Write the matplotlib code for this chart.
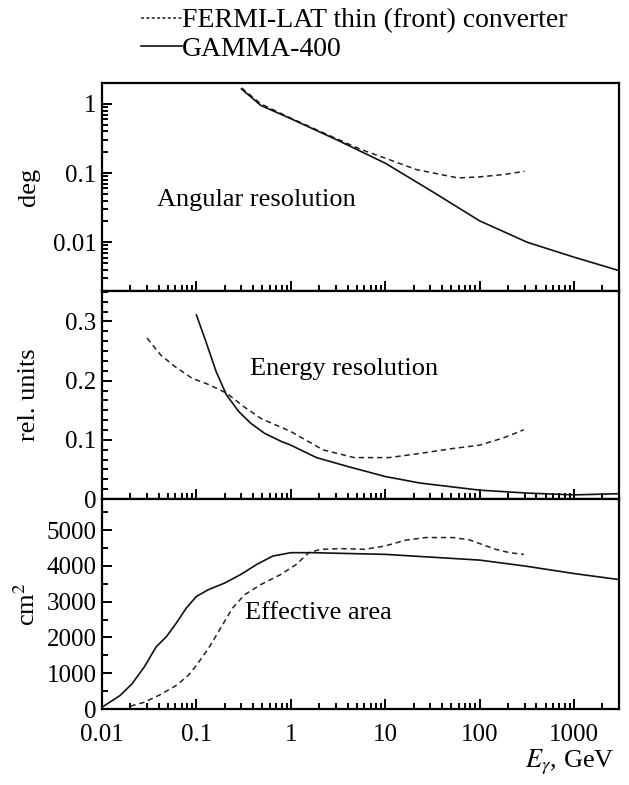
import numpy as np
import matplotlib
matplotlib.use("Agg")
import matplotlib.pyplot as plt
from matplotlib.ticker import LogLocator, MultipleLocator, NullFormatter, FixedLocator, FixedFormatter

plt.rcParams['font.family'] = ['Liberation Serif', 'DejaVu Serif']
plt.rcParams['mathtext.fontset'] = 'stix'

# Angular resolution, deg
ang_e_gamma = [0.3, 0.48, 1, 3.1, 10, 33, 100, 320, 1000, 3000]
ang_gamma = [1.64, 0.95, 0.61, 0.30, 0.139, 0.052, 0.0204, 0.010, 0.0061, 0.0039]
ang_e_fermi = [0.3, 0.48, 1, 3.1, 5.5, 10, 21.5, 59, 100, 177, 300]
ang_fermi = [1.70, 1.0, 0.62, 0.31, 0.22, 0.164, 0.112, 0.085, 0.088, 0.095, 0.106]

# Energy resolution, rel. units
en_e_gamma = [0.1, 0.126, 0.162, 0.208, 0.28, 0.376, 0.527, 0.8, 1, 1.87, 4.0, 10, 23.4, 100, 320, 1000, 3000]
en_gamma = [0.311, 0.266, 0.215, 0.176, 0.148, 0.128, 0.111, 0.097, 0.091, 0.070, 0.055, 0.038, 0.027, 0.015, 0.010, 0.007, 0.009]
en_e_fermi = [0.03, 0.042, 0.059, 0.09, 0.137, 0.208, 0.318, 0.484, 1, 2.2, 4.7, 11, 23.4, 50, 100, 177, 294]
en_fermi = [0.272, 0.243, 0.224, 0.204, 0.193, 0.179, 0.156, 0.136, 0.114, 0.083, 0.070, 0.070, 0.077, 0.085, 0.091, 0.103, 0.117]

# Effective area, cm^2
area_e_gamma = [0.01, 0.0155, 0.0208, 0.028, 0.0375, 0.048, 0.061, 0.078, 0.1, 0.134, 0.2, 0.294, 0.435,
                0.644, 1, 1.7, 10, 100, 308, 1000, 3000]
area_gamma = [50, 376, 705, 1175, 1739, 2020, 2397, 2820, 3148, 3336, 3524, 3759, 4041,
              4276, 4370, 4370, 4323, 4163, 3994, 3787, 3618]
area_e_fermi = [0.02, 0.028, 0.041, 0.061, 0.082, 0.1, 0.134, 0.18, 0.241, 0.324, 0.48, 0.78, 1.14,
                1.55, 2.08, 3.4, 6.1, 10, 16.3, 26.7, 52.8, 78, 105, 148, 208, 294]
area_fermi = [80, 188, 395, 658, 940, 1222, 1692, 2256, 2820, 3195, 3477, 3759, 4041,
              4370, 4464, 4483, 4464, 4558, 4718, 4793, 4793, 4727, 4605, 4464, 4370, 4323]

x_ticks = [0.01, 0.1, 1, 10, 100, 1000]
x_tick_labels = ['0.01', '0.1', '1', '10', '100', '1000']

FS = 18
TXT = 19
DASH = (0, (3.5, 2.5))

fig = plt.figure(figsize=(6.29, 7.85), dpi=100)
left, width = 0.1622, 0.822
ax1 = fig.add_axes([left, 0.6297, width, 0.2646])
ax2 = fig.add_axes([left, 0.3643, width, 0.2654])
ax3 = fig.add_axes([left, 0.0968, width, 0.2675])

for ax in (ax1, ax2, ax3):
    ax.set_xscale('log')
    ax.set_xlim(0.01, 3000)
    ax.xaxis.set_major_locator(FixedLocator(x_ticks))
    ax.xaxis.set_minor_locator(LogLocator(base=10, subs=np.arange(2, 10), numticks=20))
    ax.xaxis.set_minor_formatter(NullFormatter())
    ax.tick_params(which='both', direction='in', top=False, right=False, width=1.4, labelsize=FS)
    ax.tick_params(which='major', length=7)
    ax.tick_params(which='minor', length=4)
    ax.tick_params(axis='y', pad=4)
    for s in ax.spines.values():
        s.set_linewidth(1.6)

ax1.plot(ang_e_fermi, ang_fermi, color='#222222', lw=1.1, linestyle=DASH)
ax1.plot(ang_e_gamma, ang_gamma, color='#111111', lw=1.2)
ax1.set_yscale('log')
ax1.set_ylim(0.002, 2)
ax1.yaxis.set_major_locator(FixedLocator([0.01, 0.1, 1]))
ax1.yaxis.set_major_formatter(FixedFormatter(['0.01', '0.1', '1']))
ax1.yaxis.set_minor_locator(LogLocator(base=10, subs=np.arange(2, 10), numticks=20))
ax1.yaxis.set_minor_formatter(NullFormatter())
ax1.set_xticklabels([])
ax1.set_ylabel('deg', fontsize=TXT)
ax1.text(0.038, 0.041, 'Angular resolution', fontsize=TXT, va='center')

ax2.plot(en_e_fermi, en_fermi, color='#222222', lw=1.1, linestyle=DASH)
ax2.plot(en_e_gamma, en_gamma, color='#111111', lw=1.2)
ax2.set_ylim(0, 0.352)
ax2.yaxis.set_major_locator(FixedLocator([0, 0.1, 0.2, 0.3]))
ax2.yaxis.set_major_formatter(FixedFormatter(['0', '0.1', '0.2', '0.3']))
ax2.yaxis.set_minor_locator(MultipleLocator(0.1 / 6))
ax2.set_xticklabels([])
ax2.set_ylabel('rel. units', fontsize=TXT)
ax2.text(0.37, 0.219, 'Energy resolution', fontsize=TXT, va='center')

ax3.plot(area_e_fermi, area_fermi, color='#222222', lw=1.1, linestyle=DASH)
ax3.plot(area_e_gamma, area_gamma, color='#111111', lw=1.2)
ax3.set_ylim(0, 5870)
ax3.yaxis.set_major_locator(MultipleLocator(1000))
ax3.yaxis.set_minor_locator(MultipleLocator(500))
ax3.xaxis.set_major_formatter(FixedFormatter(x_tick_labels))
ax3.tick_params(axis='x', which='major', pad=11)
ax3.set_ylabel('cm$^2$', fontsize=TXT)
ax3.text(0.33, 2690, 'Effective area', fontsize=TXT, va='center')
ax3.text(0.992, -0.185, r'$E_\gamma$, GeV', transform=ax3.transAxes, ha='right', va='top', fontsize=TXT)

for ax in (ax1, ax2, ax3):
    ax.yaxis.set_label_coords(-0.12, 0.5)

fermi_h, = ax1.plot([], [], color='#222222', lw=1.1, linestyle=(0, (2, 1.5)))
gamma_h, = ax1.plot([], [], color='#111111', lw=1.2)
fig.legend([fermi_h, gamma_h], ['FERMI-LAT thin (front) converter', 'GAMMA-400'],
           loc='upper left', bbox_to_anchor=(0.207, 1.004), frameon=False, fontsize=20,
           handlelength=1.45, handletextpad=0.0, labelspacing=0.1, borderaxespad=0.0)

fig.savefig('out.png', dpi=100)
